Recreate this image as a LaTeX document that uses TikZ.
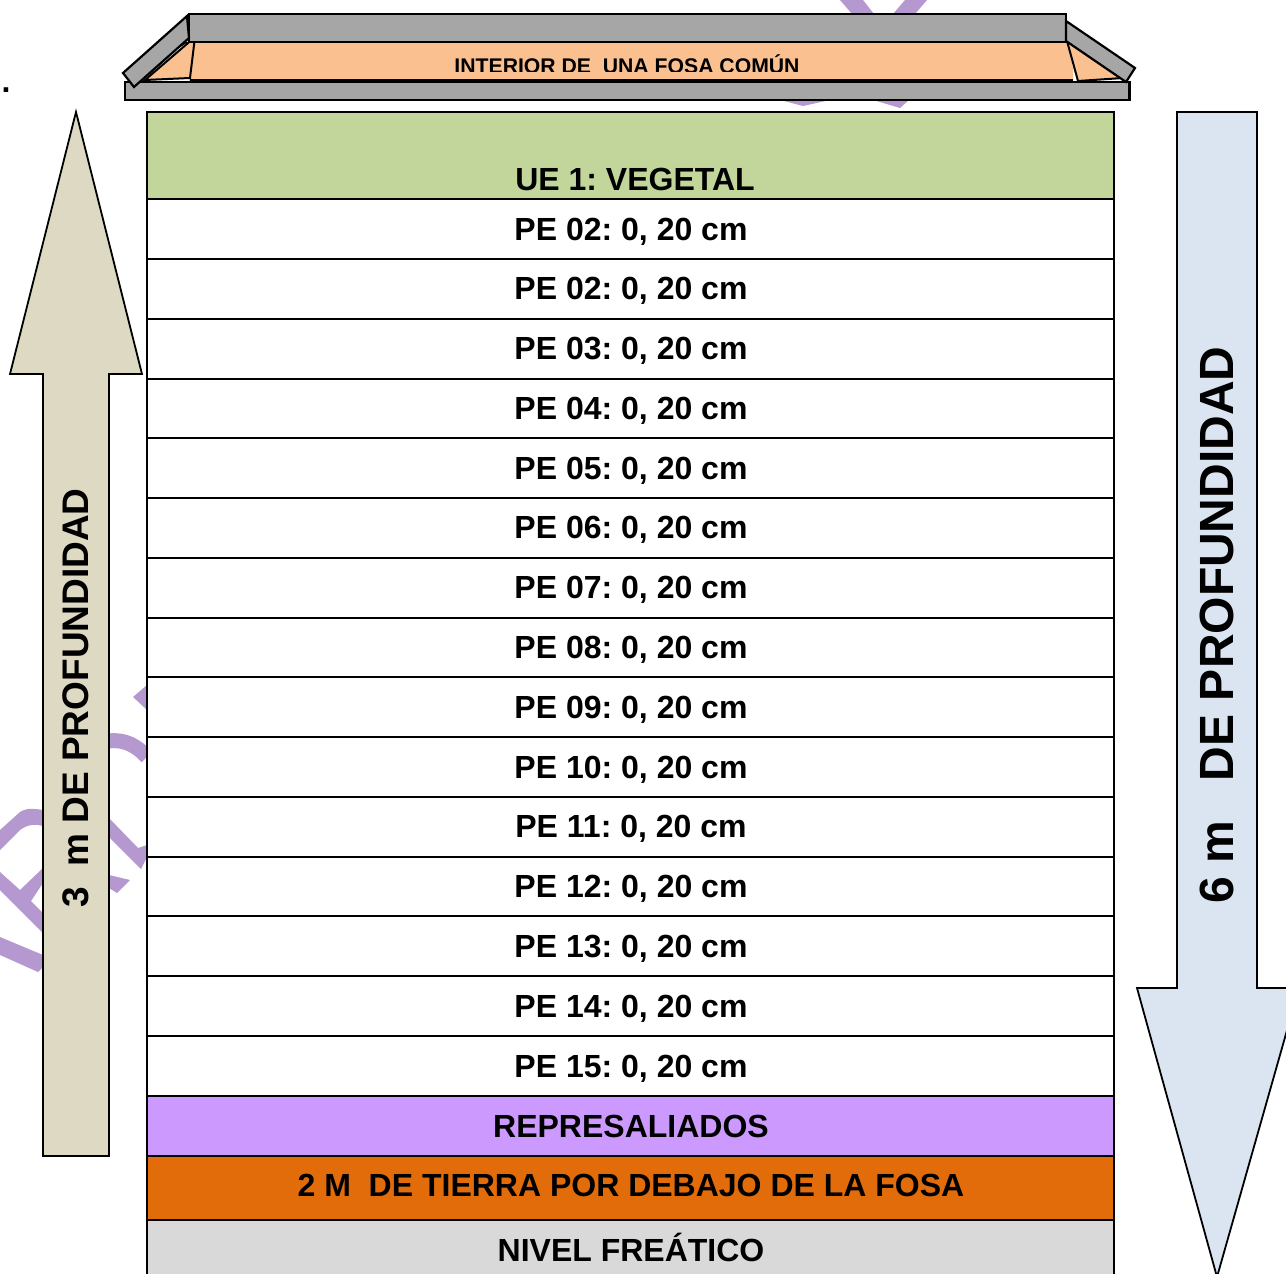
\documentclass[tikz,border=0pt]{standalone}
\usepackage{fontspec}
\setmainfont{Liberation Sans}
\frenchspacing
\definecolor{wm}{HTML}{B598D0}
\definecolor{roofgrey}{HTML}{A6A6A6}
\definecolor{peach}{HTML}{FAC08F}
\definecolor{veg}{HTML}{C2D69B}
\definecolor{repr}{HTML}{CC99FF}
\definecolor{tierra}{HTML}{E36C0A}
\definecolor{niv}{HTML}{D9D9D9}
\definecolor{beige}{HTML}{DDD9C3}
\definecolor{bluea}{HTML}{DBE5F1}
\newcommand{\rowfont}{\fontsize{16}{16}\selectfont\bfseries}
\tikzset{
  rowbox/.style={draw=black,line width=1pt,anchor=north west,outer sep=0pt,minimum width=483.5pt,inner sep=0pt},
  rowtext/.style={inner sep=0pt,anchor=base,font=\rowfont},
  roofpart/.style={draw=black,line width=1.1pt,line join=miter,fill=roofgrey},
  peachpart/.style={draw=black,line width=1pt,fill=peach},
  arrowshape/.style={draw=black,line width=0.9pt,line join=miter},
  wmline/.style={draw=wm,line width=7.5pt}
}
\begin{document}
\begin{tikzpicture}[x=0.5pt,y=-0.5pt]
\useasboundingbox (0,0) rectangle (1286,1274);
\begin{scope}
\clip (0,0) rectangle (1286,1274);
% watermark
\fill[wm] (840,0) -- (863,0) -- (874,14) -- (852,14) -- cycle;
\fill[wm] (905,0) -- (927,0) -- (915,14) -- (893,14) -- cycle;
\fill[wm] (780,100) -- (803,106) -- (830,100) -- cycle;
\fill[wm] (873,100) -- (900,108) -- (909,100) -- cycle;
\fill[wm] (147,685) -- (133,697) -- (147,710) -- cycle;
\draw[wmline] (109,741) .. controls (125,739) and (137,746) .. (147,757);
\fill[wm] (109,818) -- (138,848) -- (147,845) -- (147,857) -- (141,869) -- (109,837) -- cycle;
\fill[wm] (109,875) -- (130,880) -- (117,893) -- (109,888) -- cycle;
\fill[wm] (0,830) -- (20,812) .. controls (28,807) and (36,809) .. (43,810) -- (43,826) .. controls (36,824) and (28,824) .. (20,830) -- (0,850) -- cycle;
\fill[wm] (0,872) -- (20,890) -- (43,868) -- (43,883) -- (31,901) -- (43,913) -- (43,933) -- (0,890) -- cycle;
\fill[wm] (0,937) -- (43,955) -- (43,967) -- (38,972) -- (0,955) -- cycle;
\end{scope}
% left arrow
\node[inner sep=0pt,anchor=base,font=\rowfont] (dot) at (6,92) {.};
\draw[arrowshape,fill=beige] (76,112) -- (142,374) -- (109,374) -- (109,1156) -- (43,1156) -- (43,374) -- (10,374) -- cycle;
\node[rotate=90,inner sep=0pt,font=\fontsize{18.5}{18.5}\selectfont\bfseries] (leftlabel) at (76,698) {3\ \ m DE PROFUNDIDAD};
% right arrow
\draw[arrowshape,fill=bluea] (1177,112) -- (1257,112) -- (1257,988) -- (1299,988) -- (1217,1277) -- (1137,988) -- (1177,988) -- cycle;
\node[rotate=90,inner sep=0pt,font=\fontsize{24}{24}\selectfont\bfseries] (rightlabel) at (1217,625) {6 m\ \ \ DE PROFUNDIDAD};
% roof
\fill[peach] (189,42) -- (1067,42) -- (1073,68) -- (1073,81) -- (189,81) -- cycle;
\begin{scope}
\clip (189,42) rectangle (1073,71);
\node[inner sep=0pt,anchor=base,font=\fontsize{10.6}{10.6}\selectfont\bfseries] (rooflabel) at (627,73) {INTERIOR DE\ \ UNA FOSA COMÚN};
\end{scope}
\fill[white] (186,38) -- (196,38) -- (150,80) -- (140,80) -- cycle;
\draw[peachpart,line width=0.8pt] (179,43) -- (185,43) -- (179,47) -- cycle;
\draw[peachpart] (195,37) -- (190,78) -- (145,80) -- cycle;
\draw[peachpart] (1067,41) -- (1123,78) -- (1078,81) -- cycle;
\draw[roofpart] (189,14) rectangle (1066,42);
\draw[roofpart] (125,82) rectangle (1129.5,100);
\draw[black,line width=1.6pt] (190,81) -- (1073,81);
\draw[roofpart] (123,73) -- (187,16) -- (189,38) -- (134,87) -- cycle;
\draw[roofpart] (1066,21) -- (1135,68) -- (1126,82) -- (1066,41) -- cycle;
% table
\node[rowbox,fill=veg,minimum height=43.5pt] (ue) at (147,112) {};
\node[rowtext] (uelabel) at (635,190) {UE 1: VEGETAL};
\foreach \n/\lab/\ya/\yb in {
 a/02/199/259,b/02/259/318.5,c/03/318.5/378.5,d/04/378.5/438,e/05/438/498,f/06/498/557.5,g/07/557.5/617.5,h/08/617.5/677,i/09/677/737,j/10/737/797,k/11/797/856.5,l/12/856.5/916,m/13/916/976,n/14/976/1036,o/15/1036/1096}{
  \pgfmathsetmacro{\hh}{(\yb-\ya)*0.5}
  \node[rowbox,fill=white,minimum height=\hh pt] (row\n) at (147,\ya) {};
  \node[rowtext] (lab\n) at (631,{(\ya+\yb)/2+11}) {PE \lab: 0, 20 cm};
}
\node[rowbox,fill=repr,minimum height=29.75pt] (repres) at (147,1096) {};
\node[rowtext] (represlab) at (631,1137) {REPRESALIADOS};
\node[rowbox,fill=tierra,minimum height=32.25pt] (tierrabox) at (147,1155.5) {};
\node[rowtext] (tierralab) at (631,1196) {2 M\ \ DE TIERRA POR DEBAJO DE LA FOSA};
\node[rowbox,fill=niv,minimum height=40pt] (nivel) at (147,1220) {};
\node[rowtext] (nivellab) at (631,1261) {NIVEL FREÁTICO};
\end{tikzpicture}
\end{document}
